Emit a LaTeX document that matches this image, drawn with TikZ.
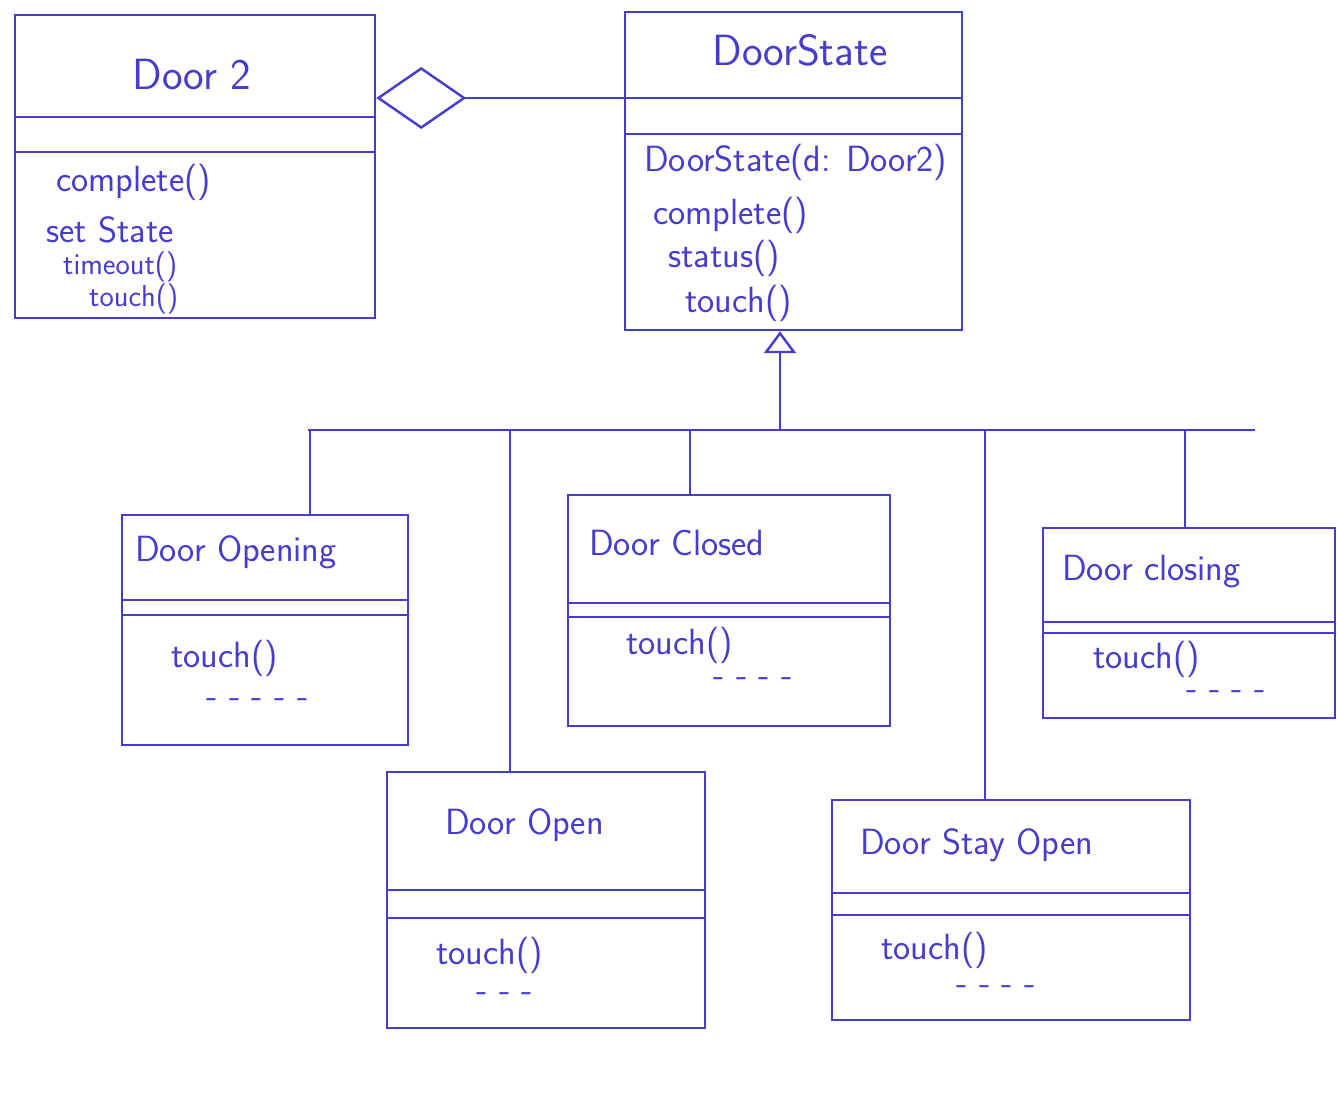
\documentclass[tikz,border=0pt]{standalone}
\usepackage{xcolor}
\usetikzlibrary{arrows.meta}
\usetikzlibrary{fit}
\definecolor{ink}{RGB}{70,60,205}

\begin{document}
\begin{tikzpicture}[x=0.2mm,y=-0.2mm,color=ink,line width=1.4pt,
  classbox/.style={draw,inner sep=0pt},
  title/.style={font=\sffamily\Huge},
  subtitle/.style={font=\sffamily\huge,anchor=west},
  method/.style={font=\sffamily\huge,anchor=west,inner sep=0pt},
  dots/.style={font=\sffamily\huge,anchor=west,inner sep=0pt},
  aggr/.style={-{Diamond[open,length=18mm,width=12.4mm]}},
  inherit/.style={-{Triangle[open,length=4.4mm,width=6.4mm]}}]
\useasboundingbox (0,0) rectangle (1338,1109);

% class boxes
\node[classbox,fit={(15,15) (375,318)}] (door) {};
\node[classbox,fit={(625,12) (962,330)}] (state) {};
\node[classbox,fit={(122,515) (408,745)}] (opening) {};
\node[classbox,fit={(568,495) (890,726)}] (closed) {};
\node[classbox,fit={(1043,528) (1335,718)}] (closing) {};
\node[classbox,fit={(387,772) (705,1028)}] (open) {};
\node[classbox,fit={(832,800) (1190,1020)}] (stay) {};

% compartment lines
\foreach \cls/\ya/\yb in {door/117/152,state/98/134,opening/600/615,
    closed/603/617,closing/622/633,open/890/918,stay/893/915}{
  \draw (\cls.west |- 0,\ya) -- (\cls.east |- 0,\ya);
  \draw (\cls.west |- 0,\yb) -- (\cls.east |- 0,\yb);
}

% Door2
\node[title] (doorT) at (192,75) {Door 2};
\node[method] (doorM1) at (55,182) {complete()};
\node[method] (doorM2) at (45,230) {set State};
\node[method,font=\sffamily\LARGE] (doorM3) at (62,267) {timeout()};
\node[method,font=\sffamily\LARGE] (doorM4) at (88,299) {touch()};

% DoorState
\node[title] (stateT) at (800,50) {DoorState};
\node[method] (stateM1) at (643,162) {DoorState(d: Door2)};
\node[method] (stateM2) at (652,215) {complete()};
\node[method] (stateM3) at (667,258) {status()};
\node[method] (stateM4) at (684,303) {touch()};

% states
\node[subtitle] (openingT) at (128,552) {Door Opening};
\node[method] (openingM) at (170,658) {touch()};
\node[dots] (openingD) at (205,703) {- - - - -};

\node[subtitle] (closedT) at (582,543) {Door Closed};
\node[method] (closedM) at (625,645) {touch()};
\node[dots] (closedD) at (712,682) {- - - -};

\node[subtitle] (closingT) at (1055,572) {Door closing};
\node[method] (closingM) at (1092,659) {touch()};
\node[dots] (closingD) at (1185,695) {- - - -};

\node[subtitle] (openT) at (438,825) {Door Open};
\node[method] (openM) at (435,955) {touch()};
\node[dots] (openD) at (475,997) {- - -};

\node[subtitle] (stayT) at (853,845) {Door Stay Open};
\node[method] (stayM) at (880,950) {touch()};
\node[dots] (stayD) at (955,990) {- - - -};

% aggregation
\draw[aggr] (state.west |- 0,98) -- (door.east |- 0,98);

% inheritance
\coordinate (hub) at (780,430);
\coordinate (barL) at (308,430);
\coordinate (barR) at (1255,430);
\draw[inherit] (hub) -- (hub |- state.south);
\draw (barL) -- (barR);
\foreach \xx/\cls in {310/opening,510/open,690/closed,985/stay,1185/closing}{
  \draw (barL -| \xx,0) -- (\cls.north -| \xx,0);
}
\end{tikzpicture}
\end{document}
